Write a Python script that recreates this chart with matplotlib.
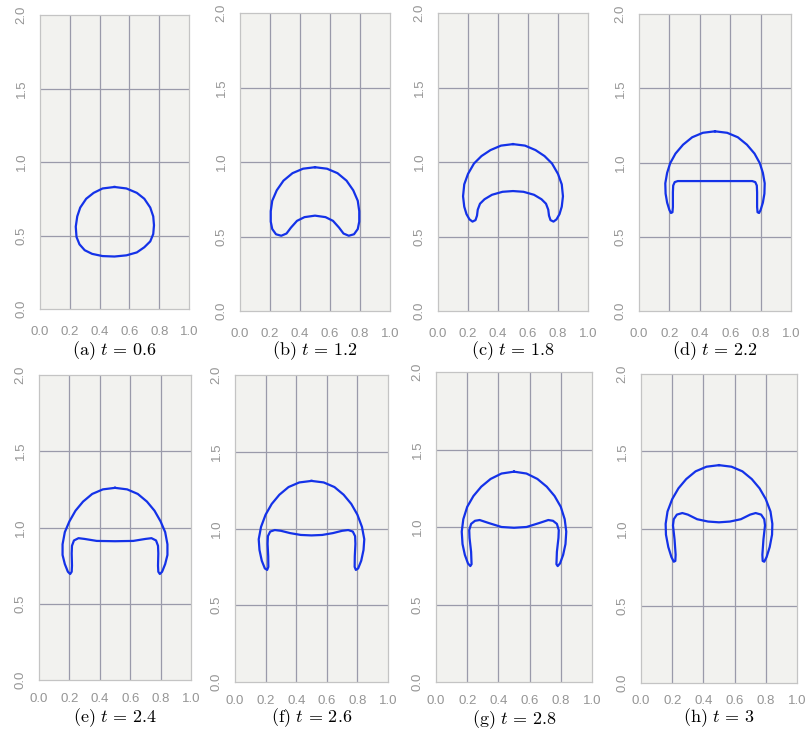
import matplotlib
matplotlib.use('Agg')
import matplotlib.pyplot as plt

plt.rcParams['mathtext.fontset'] = 'cm'

W, H = 805, 733

# contour points (x, y), closed curves
xa = [0.50, 0.58, 0.65, 0.70, 0.74, 0.76, 0.765, 0.76, 0.74, 0.70, 0.65, 0.58, 0.50,
      0.42, 0.35, 0.30, 0.265, 0.245, 0.24, 0.25, 0.27, 0.31, 0.36, 0.42, 0.50]
ya = [0.83, 0.82, 0.79, 0.75, 0.69, 0.63, 0.57, 0.51, 0.46, 0.42, 0.385, 0.365, 0.357,
      0.36, 0.375, 0.40, 0.44, 0.49, 0.56, 0.63, 0.69, 0.75, 0.79, 0.82, 0.83]

xb = [0.50, 0.58, 0.65, 0.71, 0.755, 0.785, 0.795, 0.795, 0.785, 0.76, 0.725, 0.69, 0.66,
      0.62, 0.57, 0.50, 0.43, 0.38, 0.34, 0.31, 0.275, 0.24, 0.215, 0.205, 0.205, 0.215,
      0.245, 0.29, 0.35, 0.42, 0.50]
yb = [0.965, 0.955, 0.925, 0.875, 0.81, 0.74, 0.67, 0.60, 0.55, 0.515, 0.505, 0.52, 0.56,
      0.605, 0.63, 0.64, 0.63, 0.605, 0.56, 0.52, 0.505, 0.515, 0.55, 0.60, 0.67, 0.74,
      0.81, 0.875, 0.925, 0.955, 0.965]

xc = [0.50, 0.58, 0.65, 0.71, 0.76, 0.80, 0.825, 0.833, 0.825, 0.81, 0.79, 0.77, 0.75,
      0.74, 0.735, 0.72, 0.69, 0.64, 0.57, 0.50, 0.43, 0.36, 0.31, 0.28, 0.265, 0.26,
      0.25, 0.23, 0.21, 0.19, 0.175, 0.167, 0.175, 0.20, 0.24, 0.29, 0.35, 0.42, 0.50]
yc = [1.12, 1.11, 1.08, 1.04, 0.99, 0.92, 0.85, 0.77, 0.70, 0.65, 0.615, 0.60, 0.61,
      0.64, 0.68, 0.72, 0.75, 0.78, 0.80, 0.805, 0.80, 0.78, 0.75, 0.72, 0.68, 0.64,
      0.61, 0.60, 0.615, 0.65, 0.70, 0.77, 0.85, 0.92, 0.99, 1.04, 1.08, 1.11, 1.12]

xd = [0.50, 0.58, 0.65, 0.71, 0.76, 0.795, 0.815, 0.827, 0.825, 0.815, 0.80, 0.79, 0.78,
      0.777, 0.777, 0.775, 0.765, 0.745, 0.50, 0.255, 0.235, 0.225, 0.223, 0.223, 0.22,
      0.21, 0.20, 0.185, 0.175, 0.173, 0.185, 0.205, 0.24, 0.29, 0.35, 0.42, 0.50]
yd = [1.21, 1.20, 1.17, 1.12, 1.06, 0.995, 0.93, 0.86, 0.79, 0.73, 0.68, 0.66, 0.665,
      0.70, 0.80, 0.845, 0.868, 0.875, 0.875, 0.875, 0.868, 0.845, 0.80, 0.70, 0.665,
      0.66, 0.68, 0.73, 0.79, 0.86, 0.93, 0.995, 1.06, 1.12, 1.17, 1.20, 1.21]

xe = [0.50, 0.58, 0.65, 0.71, 0.76, 0.80, 0.83, 0.845, 0.845, 0.83, 0.81, 0.795, 0.785,
      0.783, 0.785, 0.783, 0.77, 0.74, 0.70, 0.62, 0.50, 0.38, 0.30, 0.26, 0.23, 0.217,
      0.215, 0.217, 0.215, 0.205, 0.19, 0.17, 0.155, 0.155, 0.17, 0.20, 0.24, 0.29, 0.35,
      0.42, 0.50]
ye = [1.26, 1.25, 1.22, 1.17, 1.11, 1.04, 0.97, 0.89, 0.82, 0.76, 0.71, 0.695, 0.71,
      0.75, 0.83, 0.88, 0.915, 0.93, 0.925, 0.912, 0.91, 0.912, 0.925, 0.93, 0.915, 0.88,
      0.83, 0.75, 0.71, 0.695, 0.71, 0.76, 0.82, 0.89, 0.97, 1.04, 1.11, 1.17, 1.22,
      1.25, 1.26]

xf = [0.50, 0.58, 0.65, 0.71, 0.76, 0.80, 0.83, 0.845, 0.84, 0.825, 0.805, 0.79, 0.782,
      0.783, 0.787, 0.785, 0.77, 0.74, 0.70, 0.64, 0.57, 0.50, 0.43, 0.36, 0.30, 0.26,
      0.23, 0.215, 0.213, 0.217, 0.218, 0.21, 0.195, 0.175, 0.16, 0.155, 0.17, 0.20, 0.24,
      0.29, 0.35, 0.42, 0.50]
yf = [1.31, 1.30, 1.27, 1.22, 1.16, 1.09, 1.01, 0.93, 0.86, 0.79, 0.74, 0.73, 0.75,
      0.82, 0.90, 0.95, 0.98, 0.99, 0.985, 0.97, 0.958, 0.955, 0.958, 0.97, 0.985, 0.99,
      0.98, 0.95, 0.90, 0.82, 0.75, 0.73, 0.74, 0.79, 0.86, 0.93, 1.01, 1.09, 1.16,
      1.22, 1.27, 1.30, 1.31]

xg = [0.50, 0.58, 0.65, 0.71, 0.76, 0.80, 0.825, 0.835, 0.83, 0.815, 0.795, 0.78, 0.772,
      0.775, 0.785, 0.787, 0.775, 0.75, 0.72, 0.66, 0.58, 0.50, 0.42, 0.34, 0.28, 0.25,
      0.225, 0.213, 0.215, 0.225, 0.228, 0.22, 0.205, 0.185, 0.17, 0.165, 0.175, 0.20,
      0.24, 0.29, 0.35, 0.42, 0.50]
yg = [1.357, 1.345, 1.31, 1.26, 1.20, 1.13, 1.05, 0.97, 0.89, 0.82, 0.765, 0.748, 0.76,
      0.84, 0.93, 0.98, 1.02, 1.04, 1.045, 1.025, 1.00, 0.995, 1.00, 1.025, 1.045, 1.04,
      1.02, 0.98, 0.93, 0.84, 0.76, 0.748, 0.765, 0.82, 0.89, 0.97, 1.05, 1.13, 1.20,
      1.26, 1.31, 1.345, 1.357]

xh = [0.50, 0.58, 0.65, 0.71, 0.76, 0.80, 0.83, 0.842, 0.84, 0.825, 0.805, 0.79, 0.78,
      0.778, 0.785, 0.795, 0.79, 0.77, 0.735, 0.70, 0.64, 0.57, 0.50, 0.43, 0.36, 0.30,
      0.265, 0.23, 0.21, 0.205, 0.215, 0.222, 0.22, 0.21, 0.195, 0.175, 0.16, 0.158,
      0.17, 0.20, 0.24, 0.29, 0.35, 0.42, 0.50]
yh = [1.41, 1.40, 1.37, 1.32, 1.26, 1.19, 1.11, 1.03, 0.96, 0.88, 0.815, 0.785, 0.79,
      0.83, 0.93, 1.02, 1.06, 1.09, 1.10, 1.09, 1.06, 1.045, 1.04, 1.045, 1.06, 1.09,
      1.10, 1.09, 1.06, 1.02, 0.93, 0.83, 0.79, 0.785, 0.815, 0.88, 0.96, 1.03, 1.11,
      1.19, 1.26, 1.32, 1.37, 1.40, 1.41]

shapes = [(xa, ya), (xb, yb), (xc, yc), (xd, yd), (xe, ye), (xf, yf), (xg, yg), (xh, yh)]
letters = ['a', 'b', 'c', 'd', 'e', 'f', 'g', 'h']
times = ['0.6', '1.2', '1.8', '2.2', '2.4', '2.6', '2.8', '3']

xticks = [0.0, 0.2, 0.4, 0.6, 0.8, 1.0]
yticks = [0.0, 0.5, 1.0, 1.5, 2.0]
grid_x = [0.2, 0.4, 0.6, 0.8]
grid_y = [0.5, 1.0, 1.5]

# axes boxes in pixels: left, right, top, bottom
boxes = [(40, 189, 15, 309), (240, 390, 13, 311), (438, 588, 13, 311), (639, 791, 14, 311),
         (39, 191, 375, 680), (235, 388, 375, 682), (436, 592, 372, 682), (641, 797, 374, 683)]
cap_y = [351, 351, 351, 351, 718, 718, 720, 718]
xpad = [12.5, 12.5, 12.5, 12.5, 9, 9, 9, 9]

fig = plt.figure(figsize=(W / 100, H / 100), dpi=100)

for i in range(8):
    l, r, t, b = boxes[i]
    ax = fig.add_axes([l / W, 1 - b / H, (r - l) / W, (b - t) / H])
    ax.set_facecolor('#f2f2ef')
    for gx in grid_x:
        ax.axvline(gx, color='#9a9aaa', lw=0.9, zorder=1)
    for gy in grid_y:
        ax.axhline(gy, color='#9a9aaa', lw=0.9, zorder=1)
    x, y = shapes[i]
    ax.plot(x, y, color='#1432e8', lw=1.6, zorder=3, solid_joinstyle='round')
    ax.set_xlim(0, 1)
    ax.set_ylim(0, 2)
    ax.set_xticks(xticks)
    ax.set_xticklabels([f'{v:.1f}' for v in xticks])
    ax.set_yticks(yticks)
    ax.set_yticklabels([f'{v:.1f}' for v in yticks], rotation=90, va='center')
    ax.tick_params(axis='x', length=0, labelsize=9.5, labelcolor='#959595', pad=xpad[i])
    ax.tick_params(axis='y', length=0, labelsize=9.5, labelcolor='#959595', pad=9)
    for lab in ax.get_xticklabels() + ax.get_yticklabels():
        lab.set_family('Liberation Sans')
    for s in ax.spines.values():
        s.set_color('#c4c4c4')
        s.set_linewidth(0.9)
    fig.text((l + r) / 2 / W, 1 - cap_y[i] / H,
             r'$\mathrm{(%s)}\ t\,=\,%s$' % (letters[i], times[i]),
             ha='center', va='center', fontsize=13)

fig.savefig('out.png', dpi=100)
